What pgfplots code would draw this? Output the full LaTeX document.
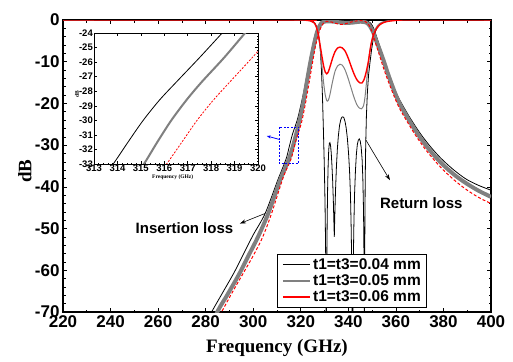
\documentclass[border=0pt]{standalone}
\usepackage{fontspec}
\setmainfont{Liberation Serif}
\setsansfont{Liberation Sans}
\usepackage{pgfplots}
\pgfplotsset{compat=1.18}
\usetikzlibrary{arrows.meta}
\definecolor{mygray}{RGB}{128,128,128}
\pgfplotsset{legend image code/.code={\draw[#1] (0pt,0pt) -- (27pt,0pt);}}
\begin{document}
\begin{tikzpicture}
\useasboundingbox (-63pt,-49pt) rectangle (450pt,312pt);
\begin{axis}[
  at={(0pt,0pt)}, anchor=south west,
  scale only axis, width=428pt, height=292pt,
  xmin=220, xmax=400, ymin=-70, ymax=0,
  xtick={220,240,...,400}, ytick={-70,-60,...,0},
  minor x tick num=1, minor y tick num=4,
  tick align=inside, major tick length=4pt, minor tick length=2.5pt,
  tick style={black, line width=0.6pt},
  /pgf/number format/assume math mode=true,
  ticklabel style={font=\sffamily\bfseries\fontsize{17}{17}\selectfont},
  xlabel={Frequency (GHz)}, ylabel={dB},
  label style={font=\rmfamily\bfseries\fontsize{19}{19}\selectfont},
  xlabel style={at={(axis description cs:0.5,-0.1233)},anchor=center},
  ylabel style={at={(axis description cs:-0.0888,0.483)},anchor=center},
  axis line style={line width=1.1pt},
  legend style={at={(axis description cs:0.5007,0.0147)}, anchor=south west,
    fill=white, draw=black, line width=0.8pt,
    font=\sffamily\bfseries\fontsize{15.5}{19}\selectfont,
    nodes={inner ysep=2pt, inner xsep=2pt},
    inner xsep=4pt, inner ysep=2pt, cells={anchor=west}},
]
% black S21
\addplot[black, line width=0.8pt, smooth, forget plot] coordinates {
(279,-74)(282.5,-70)(287,-65.5)(292,-60.5)(296,-56)(300,-51.5)(305,-46.4)(310.3,-38.4)(312,-36)(314,-33)(315.1,-30.5)(316.5,-27.4)(318.5,-24)(320,-20.5)(321.5,-16.5)(323,-12)(324.5,-7.5)(325.8,-4)(327,-1.8)(328.3,-0.6)(330,-0.15)(335,-0.05)(340,-0.1)(345,-0.05)(348,-0.2)(349.5,-0.8)(350.8,-2.2)(352,-4.2)(353.5,-6.8)(355,-9.5)(357,-13)(359,-16)(361,-18.5)(363,-20.6)(366,-23.5)(370,-27)(374,-30)(378,-32.6)(382,-34.8)(386,-36.7)(390,-38.3)(395,-39.7)(400,-40.8)
};
% black S11
\addplot[black, line width=0.8pt, forget plot] coordinates {
(220,0)(320,0)(322,-0.03)(323.5,-0.1)(324.5,-0.22)(325.3,-0.4)(326,-0.8)(326.7,-1.6)(327.5,-3.5)(328.2,-7)(328.7,-12)(329.1,-18)(329.5,-26)(329.9,-35)(330.2,-44)(330.45,-55)(330.7,-80)(330.9,-62)(331.1,-48)(331.3,-40)(331.5,-35)(331.75,-31.2)(332,-29.6)(332.25,-29.4)(332.5,-30)(332.8,-31.8)(333.1,-34.8)(333.4,-38.5)(333.7,-43.5)(333.95,-49)(334.1,-52)(334.3,-47)(334.6,-41)(335,-35)(335.4,-30.8)(335.8,-27.8)(336.3,-25.3)(336.8,-23.9)(337.3,-23.3)(337.7,-23.2)(338.1,-23.4)(338.6,-24.3)(339.1,-25.9)(339.6,-28.4)(340.1,-32)(340.5,-36)(340.9,-42)(341.2,-50)(341.5,-62)(341.7,-85)(342,-62)(342.3,-50)(342.6,-42)(343,-36)(343.4,-32)(343.8,-29.8)(344.2,-28.8)(344.6,-28.5)(345,-29)(345.4,-30.5)(345.8,-33.5)(346.1,-38)(346.4,-46)(346.6,-58)(346.75,-85)(346.9,-55)(347.1,-38)(347.3,-30)(347.6,-23)(348,-17.5)(348.5,-13.2)(349.1,-10.2)(349.8,-7)(350.5,-4.5)(351.2,-3)(352,-2)(353.3,-1.1)(355,-0.5)(357,-0.15)(360,-0.03)(365,0)(400,0)
};
% gray S21
\addplot[mygray, line width=4pt, smooth, forget plot] coordinates {
(281,-76)(284.9,-70)(289,-66)(294,-61)(298,-56.5)(302,-52)(306.3,-46.4)(311.3,-38.4)(313.2,-35.8)(315.2,-33)(317.4,-28.8)(319.5,-24)(321,-20)(322.5,-15)(324,-10.2)(325.5,-6)(326.7,-3.2)(327.8,-1.5)(329,-0.6)(331,-0.3)(334,-0.4)(337,-0.6)(339.5,-0.7)(342,-0.6)(345,-0.4)(347.5,-0.6)(349,-1.4)(350.5,-3)(352,-5.4)(353.5,-7.6)(355,-10)(356.5,-12.6)(358,-15)(360,-18)(362,-20.5)(365,-23.5)(368,-26.3)(372,-29.6)(376,-32.4)(380,-34.8)(385,-37.3)(390,-39.3)(395,-41)(400,-42.4)
};
% gray S11
\addplot[mygray, line width=1pt, smooth, forget plot] coordinates {
(220,0)(320,0)(322,-0.05)(324,-0.2)(325.5,-0.6)(326.5,-1.6)(327.4,-3.8)(328.2,-7)(328.9,-11)(329.6,-15)(330.3,-18)(331,-19.4)(331.6,-19.2)(332.3,-17.8)(333.2,-15.2)(334.4,-12.3)(335.5,-11)(336.5,-10.6)(337.4,-10.8)(338.5,-11.8)(339.8,-13.8)(341,-16)(342.3,-18.4)(343.5,-20.2)(344.6,-21.1)(345.5,-21.3)(346.4,-20.5)(347,-18.5)(347.8,-14)(348.5,-10)(349.3,-6.5)(350.2,-4)(351.5,-2)(353,-0.9)(355,-0.35)(358,-0.08)(362,0)(400,0)
};
% red S21
\addplot[red, line width=1pt, dash pattern=on 3pt off 2pt, smooth, forget plot] coordinates {
(283,-74)(286.7,-70)(291,-65.5)(296,-60.5)(300,-56.5)(304,-52)(307.7,-46.4)(312.2,-38.4)(314,-35.8)(316.1,-33)(318.1,-28.6)(320.2,-24.8)(321.8,-20.5)(323.3,-15.7)(324.7,-11)(326,-6.8)(327.2,-3.8)(328.3,-2)(329.5,-0.8)(331,-0.3)(333,-0.5)(335,-0.85)(336.7,-1.05)(338.5,-0.95)(340.5,-0.6)(342.5,-0.3)(345,-0.15)(347,-0.3)(348.3,-0.9)(349.3,-1.9)(350.4,-3.6)(351.6,-5.8)(353,-8.3)(354.5,-11)(356,-13.5)(358,-16.5)(360,-19.3)(362,-21.7)(365,-24.6)(368,-27.4)(372,-30.7)(376,-33.5)(380,-36)(385,-38.6)(390,-40.8)(395,-42.6)(400,-44)
};
% red S11
\addplot[red, line width=1.4pt, smooth, forget plot] coordinates {
(220,0)(320,0)(322,-0.05)(324,-0.2)(325.5,-0.6)(326.5,-1.6)(327.4,-3.6)(328.2,-6.3)(328.8,-8.4)(329.6,-11)(330.3,-12.5)(330.9,-12.9)(331.6,-12.4)(332.5,-10.8)(333.4,-9.1)(334.4,-7.6)(335.5,-6.7)(336.5,-6.5)(337.5,-6.7)(338.7,-7.5)(340,-9.2)(341.3,-11.3)(342.6,-13.2)(343.8,-14.5)(345,-15.1)(345.7,-15.1)(346.6,-14.3)(347.5,-12.5)(348.4,-10)(349.2,-7)(349.8,-5.2)(350.8,-3.3)(351.9,-2)(353.5,-1)(356,-0.4)(360,-0.1)(365,0)(400,0)
};
% legend-only series (single point outside the visible range)
\addplot[draw=black, line width=1.1pt] coordinates {(210,10)};
\addlegendentry{t1=t3=0.04 mm}
\addplot[draw=mygray, line width=2.4pt] coordinates {(210,10)};
\addlegendentry{t1=t3=0.05 mm}
\addplot[draw=red, line width=1.6pt] coordinates {(210,10)};
\addlegendentry{t1=t3=0.06 mm}
\node[font=\sffamily\bfseries\fontsize{15}{18}\selectfont] at (axis cs:271.1,-49.9) {Insertion loss};
\node[font=\sffamily\bfseries\fontsize{15}{18}\selectfont] at (axis cs:370.7,-43.8) {Return loss};
\draw[-{Stealth[length=6pt,width=4pt]}, line width=0.6pt] (axis cs:304.9,-46.4) -- (axis cs:294.4,-48.8);
\draw[-{Stealth[length=6pt,width=4pt]}, line width=0.6pt] (axis cs:347.4,-28.8) -- (axis cs:357.5,-38.4);
\draw[blue, dash pattern=on 2pt off 1.5pt, line width=0.8pt] (axis cs:310.8,-25.7) rectangle (axis cs:319.2,-34.3);
\draw[blue, -{Stealth[length=4pt,width=3pt]}, line width=0.8pt] (axis cs:310.8,-28.6) -- (axis cs:305.7,-27.8);
\end{axis}
\begin{axis}[
  at={(31pt,148pt)}, anchor=south west,
  scale only axis, width=164pt, height=131pt,
  xmin=313, xmax=320, ymin=-33, ymax=-24,
  xtick={313,...,320}, ytick={-33,...,-24},
  minor x tick num=4, minor y tick num=4,
  tick align=inside, major tick length=2.5pt, minor tick length=1.2pt,
  tick style={black, line width=0.5pt},
  axis background/.style={fill=white},
  /pgf/number format/assume math mode=true,
  ticklabel style={font=\sffamily\bfseries\fontsize{9.5}{10}\selectfont, inner sep=1pt},
  xlabel={Frequency (GHz)}, ylabel={dB},
  label style={font=\rmfamily\bfseries\fontsize{5.5}{6}\selectfont},
  xlabel style={at={(axis description cs:0.48,-0.097)},anchor=center},
  ylabel style={at={(axis description cs:-0.104,0.53)},anchor=center},
  axis line style={line width=0.8pt},
]
\addplot[black, line width=0.8pt, smooth] coordinates {
(313.5,-33.6)(313.82,-33)(314.45,-31.5)(315.1,-30)(315.8,-28.6)(316.52,-27.36)(317.5,-25.7)(318.47,-24)(318.8,-23.4)
};
\addplot[mygray, line width=2pt, smooth] coordinates {
(314.8,-33.6)(315.13,-33)(315.7,-31.5)(316.3,-30)(316.95,-28.6)(317.6,-27.36)(318.55,-25.7)(319.45,-24)(319.8,-23.4)
};
\addplot[red, line width=0.8pt, dash pattern=on 2pt off 1.5pt, smooth] coordinates {
(315.8,-33.6)(316.1,-33)(316.75,-31.5)(317.4,-30)(318.1,-28.6)(318.8,-27.36)(319.75,-25.7)(320.3,-24.7)
};
\end{axis}
\end{tikzpicture}
\end{document}
